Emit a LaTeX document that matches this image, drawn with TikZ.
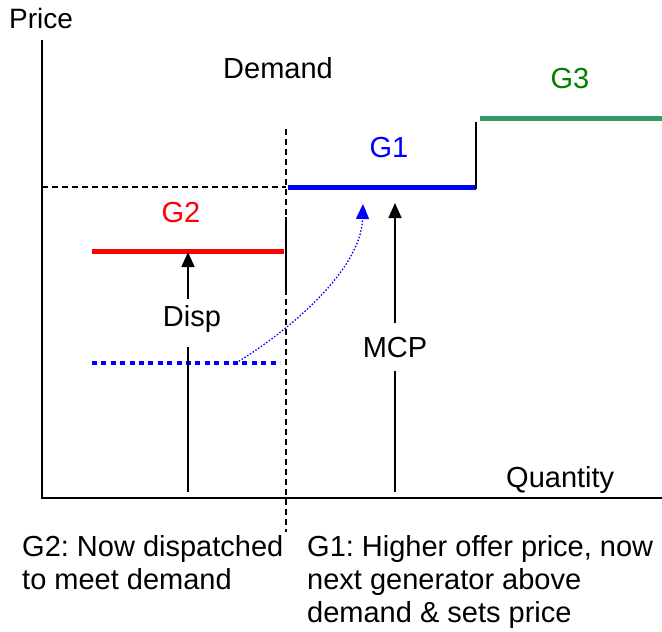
\documentclass[tikz,border=0pt]{standalone}
\usepackage{fontspec}
\setmainfont{Liberation Sans}
\usetikzlibrary{arrows.meta}
\frenchspacing
\definecolor{gthree}{RGB}{51,153,102}
\definecolor{gthreetxt}{RGB}{0,128,0}
\tikzset{
  lbl/.style={inner sep=0pt, font=\fontsize{29}{33}\selectfont},
  axis/.style={line width=2pt, black},
  guide/.style={line width=1.3pt, dash pattern=on 6pt off 4pt, black},
  offer/.style={line width=5pt},
  uparrow/.style={line width=1.5pt, -{Triangle[length=15pt,width=13pt]}},
  plainline/.style={line width=1.5pt},
}
\begin{document}
\begin{tikzpicture}[x=1pt,y=-1pt]
\useasboundingbox (0,0) rectangle (662,632);
% axes
\coordinate (ytop) at (42,40);
\coordinate (orig) at (42,498);
\coordinate (xend) at (662,498);
\draw[axis] (ytop) -- (orig) -- (xend);
\node[lbl, anchor=base west, font=\fontsize{28}{33}\selectfont] (price) at (9,28) {Price};
\node[lbl, anchor=base west] (qty) at (506,487) {Quantity};
% demand line
\node[lbl, anchor=base] (demand) at (278,78) {Demand};
\coordinate (dtop) at (286,129);
\coordinate (dbot) at (286,532);
\draw[guide] (dtop) -- (dbot);
\coordinate (ds1) at (286,217);
\coordinate (ds2) at (286,293);
\draw[plainline] (ds1) -- (ds2);
% price level dashed
\coordinate (py) at (42,187);
\coordinate (pd) at (286,187);
\draw[guide] (py) -- (pd);
% G1
\coordinate (g1a) at (288,187);
\coordinate (g1b) at (476,187);
\draw[offer, blue] (g1a) -- (g1b);
\node[lbl, anchor=base, text=blue] (g1) at (389,157) {G1};
% step
\coordinate (st1) at (476,122);
\coordinate (st2) at (476,189);
\draw[plainline] (st1) -- (st2);
% G3
\coordinate (g3a) at (480,118);
\coordinate (g3b) at (662,118);
\draw[offer, gthree] (g3a) -- (g3b);
\node[lbl, anchor=base, text=gthreetxt] (g3) at (570,88) {G3};
% G2
\coordinate (g2a) at (92,251);
\coordinate (g2b) at (284,251);
\draw[offer, red] (g2a) -- (g2b);
\node[lbl, anchor=base, text=red] (g2) at (181,222) {G2};
% blue dotted old G2
\coordinate (b1) at (92,363);
\coordinate (b2) at (280,363);
\draw[line width=4pt, blue, dash pattern=on 5pt off 4.4pt] (b1) -- (b2);
\coordinate (cs) at (236,363);
\coordinate (ce) at (363,204);
\draw[line width=1.3pt, blue, dash pattern=on 1.5pt off 1.8pt, -{Triangle[length=15pt,width=13pt]}]
  (cs) .. controls (290,330) and (361,270) .. (ce);
% Disp arrow
\node[lbl, anchor=base] (disp) at (192,326) {Disp};
\coordinate (da) at (188,299);
\coordinate (dt) at (188,252);
\draw[uparrow] (da) -- (dt);
\coordinate (dl1) at (188,347);
\coordinate (dl2) at (188,492);
\draw[plainline] (dl1) -- (dl2);
% MCP arrow
\node[lbl, anchor=base] (mcp) at (395,357) {MCP};
\coordinate (ma) at (395,323);
\coordinate (mt) at (395,203);
\draw[uparrow] (ma) -- (mt);
\coordinate (ml1) at (395,371);
\coordinate (ml2) at (395,492);
\draw[plainline] (ml1) -- (ml2);
% bottom texts (base anchor = last line)
\node[lbl, anchor=base west, align=left] (t2) at (22,589) {G2: Now dispatched\\to meet demand};
\node[lbl, anchor=base west, align=left] (t1) at (307,622) {G1: Higher offer price, now\\next generator above\\demand \& sets price};
\end{tikzpicture}
\end{document}
